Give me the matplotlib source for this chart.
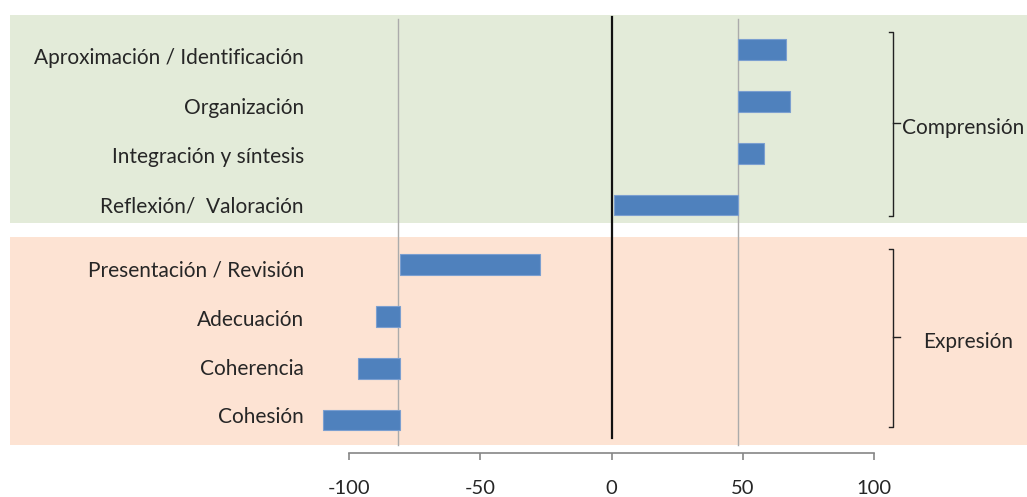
import matplotlib
matplotlib.use("Agg")
import matplotlib.pyplot as plt
import numpy as np

plt.rcParams['font.family'] = ['Lato', 'DejaVu Sans']

# categories, top to bottom
labels_comp = ["Aproximación / Identificación", "Organización",
               "Integración y síntesis", "Reflexión/  Valoración"]
labels_expr = ["Presentación / Revisión", "Adecuación", "Coherencia", "Cohesión"]

# bars: start and end values
comp_start = [48, 48, 48, 1]
comp_end = [66.4, 67.9, 58.1, 48]
expr_start = [-80.6, -80.6, -80.6, -80.6]
expr_end = [-27.3, -89.6, -96.5, -109.9]

ref_lines = [-81.5, 48.2]
xticks = [-100, -50, 0, 50, 100]
group_names = ["Comprensión", "Expresión"]

W, H = 1027, 497
fig = plt.figure(figsize=(W / 100, H / 100), dpi=100)
ax_bottom = 44.3 / H
ax = fig.add_axes([0, ax_bottom, 1, 1 - ax_bottom])

ppu = 2.627   # pixels per x unit
x0 = 611.7    # pixel of x = 0
ax.set_xlim(-x0 / ppu, (W - x0) / ppu)
ax.set_ylim(7.78, -0.96)

gap = 1.15
pos_comp = np.arange(len(labels_comp))
pos_expr = pos_comp[-1] + gap + np.arange(len(labels_expr))

# background bands
ax.axhspan(-0.67, 3.35, xmin=10 / W, xmax=1, color="#E3EBD9", lw=0, zorder=0)
ax.axhspan(3.61, 7.63, xmin=10 / W, xmax=1, color="#FDE3D3", lw=0, zorder=0)

for v in ref_lines:
    ax.plot([v, v], [-0.59, 7.63], color="#ABABAB", lw=1.0, zorder=1)
ax.plot([0, 0], [-0.63, 7.50], color="#111111", lw=1.6, zorder=3)

bh = 0.40
for p, s, e in zip(pos_comp, comp_start, comp_end):
    ax.barh(p, e - s, left=s, height=bh, color="#4F81BD", edgecolor="#7B9FD0",
            lw=0.8, zorder=2)
for p, s, e in zip(pos_expr, expr_start, expr_end):
    ax.barh(p, e - s, left=s, height=bh, color="#4F81BD", edgecolor="#7B9FD0",
            lw=0.8, zorder=2)

# category labels (text boxes, spaced a bit tighter than the bars)
lab_x = (304 - x0) / ppu
lab_y_comp = 0.125 + 0.952 * np.arange(len(labels_comp))
lab_y_expr = 4.228 + 0.944 * np.arange(len(labels_expr))
for p, t in zip(list(lab_y_comp) + list(lab_y_expr), labels_comp + labels_expr):
    ax.text(lab_x, p, t, ha="right", va="center_baseline", fontsize=15,
            color="#262626")

# braces
def brace(y0, y1, ym, name, tx):
    bx = 107.1
    ax.plot([105.6, bx, bx, 105.6], [y0, y0, y1, y1], color="#222222", lw=1.0)
    ax.plot([bx, 109.8], [ym, ym], color="#222222", lw=1.0)
    ax.text(tx, ym + 0.05, name, ha="left", va="center_baseline", fontsize=15,
            color="#262626")

brace(-0.34, 3.21, 1.42, group_names[0], 110.5)
brace(3.85, 7.28, 5.55, group_names[1], 118.4)

# x axis
for sp in ["top", "left", "right"]:
    ax.spines[sp].set_visible(False)
ax.spines["bottom"].set_bounds(-100, 100)
ax.spines["bottom"].set_color("#868686")
ax.spines["bottom"].set_linewidth(1.2)
ax.set_xticks(xticks)
ax.set_xticklabels([str(v) for v in xticks])
ax.tick_params(axis="x", direction="out", length=5, width=1.2, color="#868686",
               pad=14.5, labelsize=14.5, labelcolor="#262626")
ax.set_yticks([])
ax.patch.set_visible(False)

fig.savefig("out.png", dpi=100)
